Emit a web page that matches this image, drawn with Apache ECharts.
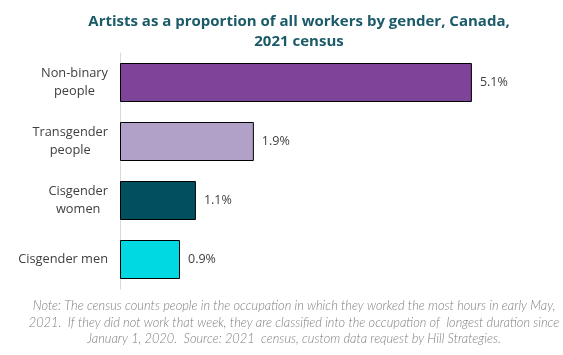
<!DOCTYPE html>
<html><head><meta charset="utf-8">
<script src="https://cdn.jsdelivr.net/npm/echarts@6/dist/echarts.min.js"></script>
<style>html,body{margin:0;padding:0;background:#fff;}#c{width:563px;height:355px;}</style>
</head><body><div id="c"></div>
<script>
const categories = ['Non-binary\npeople', 'Transgender\npeople', 'Cisgender\nwomen', 'Cisgender men'];
const values = [5.1, 1.94, 1.1, 0.87];
const valueLabels = ['5.1%', '1.9%', '1.1%', '0.9%'];
const barColors = ['#7E449A', '#B1A0C7', '#00505F', '#00D9E1'];
const titleText = 'Artists as a proportion of all workers by gender, Canada,\n2021 census';
const noteText = 'Note: The census counts people in the occupation in which they worked the most hours in early May,\n2021.  If they did not work that week, they are classified into the occupation of  longest duration since\nJanuary 1, 2020.  Source: 2021  census, custom data request by Hill Strategies.';

const chart = echarts.init(document.getElementById('c'), null, {renderer: 'canvas'});
chart.setOption({
  animation: false,
  backgroundColor: '#fff',
  title: [{
    text: titleText,
    left: 294, top: 7, textAlign: 'center',
    textStyle: {fontFamily: 'Open Sans', fontWeight: 'bold', fontSize: 15, color: '#1B5A68', lineHeight: 20}
  }, {
    text: noteText,
    left: 289, top: 293, textAlign: 'center',
    textStyle: {fontFamily: 'Lato', fontStyle: 'italic', fontWeight: 300, fontSize: 12.8, color: '#7F7F7F', lineHeight: 16.5}
  }],
  grid: {left: 120, width: 414, top: 53, height: 236},
  xAxis: {type: 'value', min: 0, max: 6, show: false},
  yAxis: {
    type: 'category', data: categories, inverse: true,
    axisLine: {show: true, lineStyle: {color: '#D9D9D9', width: 1}},
    axisTick: {show: false},
    axisLabel: {
      margin: 12,
      formatter: function (v) { return v.split('\n').map(s => '{a|' + s + '}').join('\n'); },
      rich: {a: {align: 'center', fontFamily: 'Open Sans', fontSize: 12.8, color: '#404040', lineHeight: 18}}
    }
  },
  series: [{
    type: 'bar', barWidth: 39,
    data: values.map((v, i) => ({value: v, itemStyle: {color: barColors[i]}})),
    itemStyle: {borderColor: '#000', borderWidth: 1},
    label: {
      show: true, position: 'right', distance: 8,
      formatter: p => valueLabels[p.dataIndex],
      fontFamily: 'Open Sans', fontSize: 12.5, color: '#404040'
    }
  }]
});
</script></body></html>
